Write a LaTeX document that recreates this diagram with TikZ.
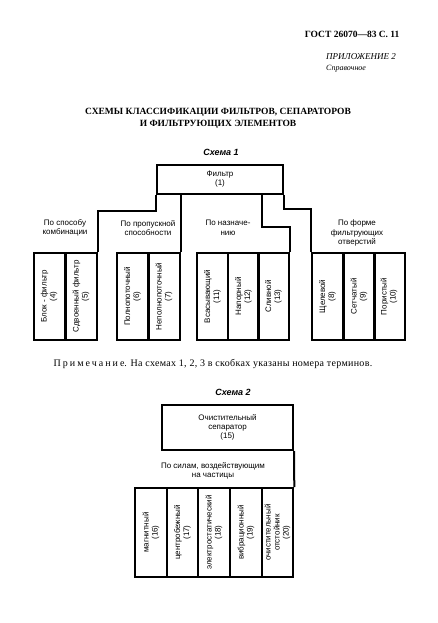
\documentclass[tikz,border=0pt]{standalone}
\usepackage{fontspec}
\setmainfont{Liberation Serif}
\setsansfont{Liberation Sans}

\begin{document}
\begin{tikzpicture}[x=1pt,y=-1pt,
  box/.style={draw,line width=2pt,font=\sffamily\fontsize{8}{9}\selectfont,align=center,inner sep=1pt},
  cell/.style={box,rotate=90,minimum width=87pt,minimum height=31pt},
  cell_two/.style={box,rotate=90,minimum width=89pt,minimum height=31.6pt},
  branch/.style={font=\sffamily\fontsize{8}{9.5}\selectfont,align=center},
  link/.style={line width=2pt}]
\useasboundingbox (0,0) rectangle (437,623);

% page head
\node[anchor=east,font=\bfseries\fontsize{9.5}{11}\selectfont] (gost_head) at (403,34) {ГОСТ 26070---83 С. 11};
\node[anchor=west,font=\itshape\fontsize{9}{10}\selectfont,inner sep=0] (appendix) at (326,57) {ПРИЛОЖЕНИЕ 2};
\node[anchor=west,font=\itshape\fontsize{8}{9}\selectfont,inner sep=0] (appendix_y) at (326,69) {Справочное};
\node[align=center,font=\bfseries\fontsize{9.5}{12}\selectfont] (title) at (218,118) {СХЕМЫ КЛАССИФИКАЦИИ ФИЛЬТРОВ, СЕПАРАТОРОВ\\И ФИЛЬТРУЮЩИХ ЭЛЕМЕНТОВ};

% scheme 1
\node[font=\sffamily\bfseries\itshape\fontsize{9}{10}\selectfont] (scheme_one) at (221,152) {Схема 1};
\node[box,minimum width=126pt,minimum height=29pt] (filter_box) at (220,179.5) {Фильтр\\(1)};

\node[cell] (cell_4) at (49,296.5) {Блок - фильтр\\(4)};
\node[cell] (cell_5) at (81,296.5) {Сдвоенный фильтр\\(5)};
\node[cell] (cell_6) at (132.5,296.5) {Полнопоточный\\(6)};
\node[cell] (cell_7) at (164,296.5) {Неполнопоточный\\(7)};
\node[cell] (cell_11) at (212.5,296.5) {Всасывающий\\(11)};
\node[cell] (cell_12) at (243.5,296.5) {Напорный\\(12)};
\node[cell] (cell_13) at (273.5,296.5) {Сливной\\(13)};
\node[cell] (cell_8) at (327.5,296.5) {Щелевой\\(8)};
\node[cell] (cell_9) at (359,296.5) {Сетчатый\\(9)};
\node[cell] (cell_10) at (389,296.5) {Пористый\\(10)};

\node[branch] (by_combination) at (65,228) {По способу\\комбинации};
\node[branch] (by_capacity) at (148,228) {По пропускной\\способности};
\node[branch] (by_purpose) at (228,228) {По назначе-\\нию};
\node[branch] (by_holes) at (357,233) {По форме\\фильтрующих\\отверстий};

\coordinate (purpose_bend) at (262,227);
\draw[link] (filter_box.south west) -- ++(0,16) -| (cell_5.south east);
\draw[link] (cell_7.south east |- filter_box.south) -- (cell_7.south east);
\draw[link] (purpose_bend |- filter_box.south) -- (purpose_bend) -| (cell_13.south east);
\draw[link] (filter_box.south east) -- ++(0,14) -| (cell_8.north east);

% note
\node[font=\fontsize{10}{11}\selectfont\addfontfeature{LetterSpace=3}] (note) at (213,364) {{\addfontfeature{LetterSpace=20}Примечание}. На схемах 1, 2, 3 в скобках указаны номера терминов.};

% scheme 2
\node[font=\sffamily\bfseries\itshape\fontsize{9}{10}\selectfont] (scheme_two) at (233,392) {Схема 2};
\node[box,minimum width=131pt,minimum height=45pt] (separator_box) at (227.5,427.5) {Очистительный\\сепаратор\\(15)};

\node[cell_two] (cell_16) at (151,532.5) {магнитный\\(16)};
\node[cell_two] (cell_17) at (182.5,532.5) {центробежный\\(17)};
\node[cell_two] (cell_18) at (214,532.5) {электростатический\\(18)};
\node[cell_two] (cell_19) at (246,532.5) {вибрационный\\(19)};
\node[cell_two] (cell_20) at (277.5,532.5) {очистительный\\отстойник\\(20)};

\node[branch] (by_forces) at (213,471) {По силам, воздействующим\\на частицы};
\draw[link] (separator_box.south east) -- (cell_20.south east);

\end{tikzpicture}
\end{document}
